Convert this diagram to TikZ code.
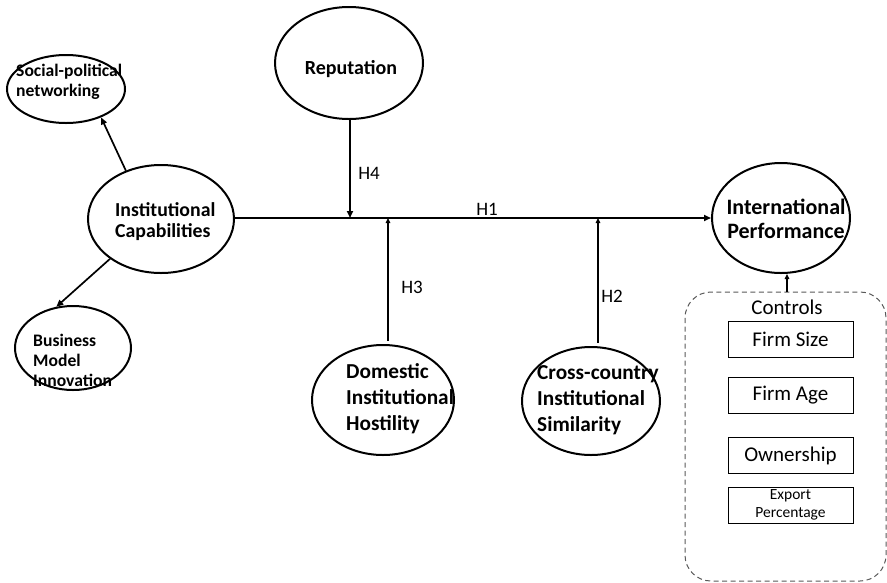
\documentclass[tikz,border=0pt]{standalone}
\usepackage{fontspec}
\setmainfont{Carlito}
\usetikzlibrary{arrows.meta,shapes.geometric}
\begin{document}
\begin{tikzpicture}[x=1pt,y=-1pt,
  bubble/.style={draw,ellipse,line width=2pt,inner sep=0pt},
  btext/.style 2 args={inner sep=0pt,align=left,font=\bfseries\fontsize{#1}{#2}\selectfont},
  ctext/.style 2 args={inner sep=0pt,align=center,font=\bfseries\fontsize{#1}{#2}\selectfont},
  htext/.style={inner sep=0pt,font=\fontsize{19}{22}\selectfont},
  conn/.style={line width=1.7pt,-{Triangle[length=7pt,width=6pt]}},
  smallconn/.style={line width=1.7pt,-{Triangle[length=5pt,width=4.5pt]}},
  ctrlbox/.style={draw,line width=1pt,minimum width=125pt,minimum height=36pt,inner sep=0pt,
    font=\fontsize{21}{24}\selectfont}]
\useasboundingbox (0,0) rectangle (887,582);

% ellipses
\node[bubble,minimum width=118pt,minimum height=68pt] (soc) at (66,89) {};
\node[bubble,minimum width=146pt,minimum height=108pt] (inst) at (161,219) {};
\node[bubble,minimum width=116pt,minimum height=84pt] (bus) at (73,348) {};
\node[bubble,minimum width=148pt,minimum height=112pt] (rep) at (349,63) {};
\node[bubble,minimum width=142pt,minimum height=110pt] (dom) at (383,400) {};
\node[bubble,minimum width=138pt,minimum height=108pt] (cross) at (591,401) {};
\node[bubble,minimum width=138pt,minimum height=110pt] (intl) at (781,218) {};

% texts in ellipses
\node[btext={17.6}{20},anchor=west] (soct) at (16,82) {Social-political\\networking};
\node[btext={19.8}{21},anchor=west] (instt) at (115,222) {Institutional\\Capabilities};
\node[btext={17.6}{20},anchor=west] (bust) at (33,360) {Business\\Model\\Innovation};
\node[ctext={20}{22}] (rept) at (351,69) {Reputation};
\node[btext={21.3}{26},anchor=west] (domt) at (346,399) {Domestic\\Institutional\\Hostility};
\node[btext={21.3}{26},anchor=west] (crosst) at (537,400) {Cross-country\\Institutional\\Similarity};
\node[ctext={22}{24}] (intlt) at (786,219) {International\\Performance};

% junctions on main path
\coordinate (j4) at (350,218);
\coordinate (j3) at (388,218);
\coordinate (j2) at (598,218);

% connectors
\draw[conn] (inst.east |- j4) -- (intl.west |- j4);
\draw[conn] (rep.south -| j4) -- (j4);
\draw[smallconn] (dom.north -| j3) ++(0,-3) -- (j3);
\draw[smallconn] (cross.north -| j2) ++(0,-3) -- (j2);
\draw[conn] (inst.126) -- (soc.-39);
\draw[conn] (inst.218) -- (bus.112);

% hypothesis labels
\node[htext] (h1) at (487,209) {H1};
\node[htext] (h4) at (369,173) {H4};
\node[htext] (h3) at (412,287) {H3};
\node[htext] (h2) at (612,296) {H2};

% controls
\draw[gray!70!black,line width=1pt,dash pattern=on 5pt off 3.5pt,rounded corners=26pt]
  (685,292) rectangle (886,581);
\coordinate (ctop) at (787,292);
\draw[line width=1.2pt,-{Triangle[length=5pt,width=4.5pt]}] (ctop) -- (ctop |- intl.south);
\node[inner sep=0pt,font=\fontsize{21}{24}\selectfont] (ctrl) at (787,307) {Controls};
\node[ctrlbox] (fs) at (790.5,339) {Firm Size};
\node[ctrlbox] (fa) at (790.5,395.5) {Firm Age};
\node[ctrlbox] (own) at (790.5,455.5) {Ownership};
\node[ctrlbox,align=center,font=\fontsize{15.5}{18}\selectfont] (exp) at (790.5,505) {Export\\Percentage};
\end{tikzpicture}
\end{document}
